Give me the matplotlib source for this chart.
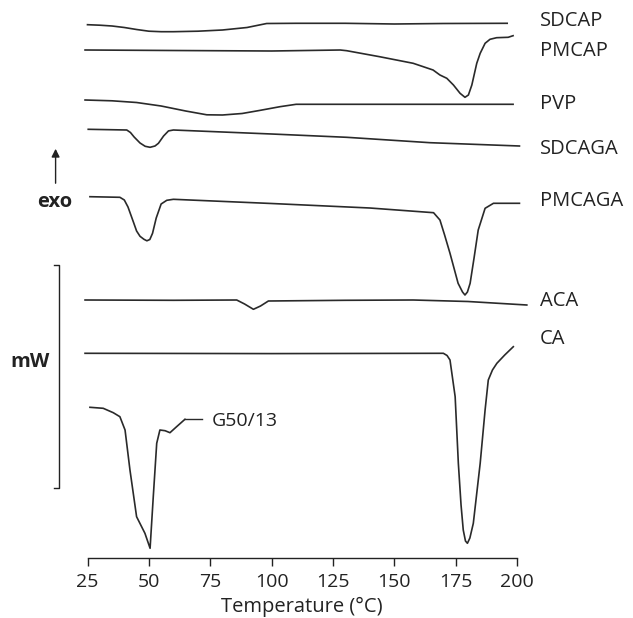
import matplotlib
matplotlib.use("Agg")
import matplotlib.pyplot as plt

plt.rcParams['font.family'] = ['Open Sans', 'DejaVu Sans']

# Temperature (°C) and signal (arbitrary units, exo up)
sdcap_t = [25, 30, 35, 40, 45, 50, 55, 60, 70, 80, 90, 95, 98, 110, 130, 150, 170, 196]
sdcap_y = [-24.7, -25.2, -26, -27.5, -29.5, -31.2, -31.7, -31.7, -31.2, -30, -27.5, -25, -23.5, -23.3, -23.3, -24, -23.5, -23.3]

pmcap_t = [24, 60, 100, 128, 130.6, 144, 157.7, 165.8, 168.6, 171.4, 174.1, 176.8, 178.8, 180.2, 181.6, 183.6, 185, 187, 189, 191.7, 196.4, 198.4]
pmcap_y = [-50, -50.5, -51, -50, -50.7, -56.7, -63.3, -70, -75, -78.3, -85, -93.3, -97.3, -95, -85, -63.3, -53.3, -43.3, -39.3, -37.7, -37.3, -35.7]

pvp_t = [24, 35, 45, 55, 65, 73.6, 80, 88, 95, 103.4, 110, 150, 198.4]
pvp_y = [-100, -100.8, -102.5, -106, -111, -114.8, -115, -113.5, -110.5, -106.7, -104.3, -104.3, -104.3]

sdcaga_t = [25.3, 41, 42.5, 44, 46.4, 48.5, 50.5, 52.5, 53.9, 56, 58, 60, 100, 130.6, 164.6, 201]
sdcaga_y = [-129.3, -130, -132.5, -137, -143, -146.3, -147.3, -146, -143.3, -136, -130.9, -130, -134, -137.3, -142.7, -146]

pmcaga_t = [26, 38.2, 40, 41.5, 43.7, 45, 46.4, 48, 49.2, 50.4, 51.5, 53, 55, 57.3, 60, 100, 140, 166, 168.6, 170.5, 172.7, 176, 177.8, 178.8, 179.8, 180.9, 182.5, 184.2, 187, 190.4, 201]
pmcaga_y = [-196.7, -197.3, -200, -207, -222, -231, -236.3, -239.3, -240.8, -239.5, -233.3, -218, -204, -200.3, -199.3, -203.5, -208, -212.7, -220, -235, -253.3, -283.3, -292, -295, -292, -283.3, -258, -230, -208.3, -203.3, -203.3]

aca_t = [24, 60, 85.8, 89, 92.6, 95.5, 98.7, 130, 157.7, 180, 204]
aca_y = [-300, -300.3, -300, -304, -309.3, -306, -301, -300.3, -300, -301.5, -305]

ca_t = [24, 100, 170, 171.5, 172.7, 174.8, 176.1, 177.2, 178.1, 179, 179.8, 180.8, 182.2, 185, 187, 188.3, 190, 191.8, 195, 198.5]
ca_y = [-353.3, -353.6, -353.3, -355.5, -360, -396.7, -463.3, -505, -530, -541, -543.3, -538, -523.3, -463.3, -410, -380, -370, -363.3, -355, -346.7]

g50_t = [26, 31.4, 35.5, 38.2, 40.3, 42.3, 45, 48.4, 50.5, 51.8, 53.2, 54.5, 56.6, 58.6, 61.3, 64.7]
g50_y = [-407.3, -408.3, -412.7, -416.7, -430, -470, -516.7, -533.3, -548.3, -496.7, -443.3, -430, -430.7, -432.7, -426.7, -419.3]

names = ["SDCAP", "PMCAP", "PVP", "SDCAGA", "PMCAGA", "ACA", "CA"]
label_y = [-21, -51, -104, -149, -201, -301, -339]
xticks = [25, 50, 75, 100, 125, 150, 175, 200]

fig = plt.figure(figsize=(6.33, 6.18), dpi=100)
ax = fig.add_axes([87.5 / 633, 60 / 618, (517 - 87.5) / 633, 558 / 618])
ax.set_xlim(25, 200)
ax.set_ylim(-558, 0)

col = '#2a2a2a'
txt = '#222222'
series = [(sdcap_t, sdcap_y), (pmcap_t, pmcap_y), (pvp_t, pvp_y), (sdcaga_t, sdcaga_y),
          (pmcaga_t, pmcaga_y), (aca_t, aca_y), (ca_t, ca_y), (g50_t, g50_y)]
for t, y in series:
    ax.plot(t, y, color=col, lw=1.2, clip_on=False, solid_joinstyle='round')

# leader line for G50/13
ax.plot([64.7, 71.5], [-419.3, -419.3], color=col, lw=1.0, clip_on=False)
ax.text(75.5, -421.5, "G50/13", fontsize=14, color=txt, va='center', ha='left')

for n, ly in zip(names, label_y):
    ax.text(209.4, ly, n, fontsize=14.5, color=txt, va='center', ha='left', clip_on=False)

for s in ['top', 'right', 'left']:
    ax.spines[s].set_visible(False)
ax.spines['bottom'].set_linewidth(1.0)
ax.spines['bottom'].set_color(txt)
ax.set_yticks([])
ax.set_xticks(xticks)
ax.set_xticklabels([str(v) for v in xticks])
ax.tick_params(axis='x', direction='out', length=6, width=1.0, colors=txt, labelsize=14, pad=5)
ax.set_xlabel("Temperature (\u00b0C)", fontsize=14.5, color=txt, labelpad=4)

# exo arrow, mW bracket
ax.annotate("", xy=(12.0, -146), xytext=(12.0, -186),
            arrowprops=dict(arrowstyle='-|>', color=txt, lw=1.0, mutation_scale=12),
            annotation_clip=False)
ax.text(11.8, -202, "exo", fontsize=14.5, fontweight='bold', color=txt, ha='center', va='center', clip_on=False)
ax.plot([11.4, 13.2, 13.2, 11.4], [-265, -265, -488, -488], color=txt, lw=1.0, clip_on=False)
ax.text(1.6, -362, "mW", fontsize=14.5, fontweight='bold', color=txt, ha='center', va='center', clip_on=False)

fig.savefig("out.png", dpi=100)
